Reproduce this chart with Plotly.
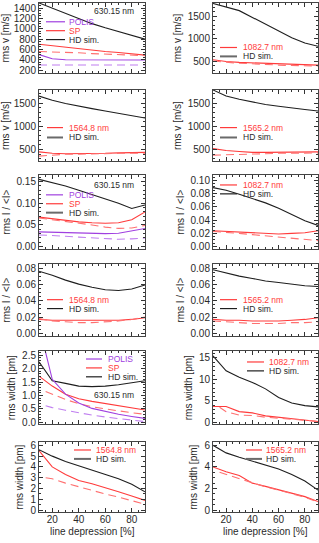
import plotly.graph_objects as go

# ---------------- data ----------------
depression = [10, 20, 30, 40, 50, 60, 70, 80, 90]
depression_dash = [15, 20, 30, 40, 50, 60, 70, 80, 90]

# rms velocity [m/s]
v630_hd = [1500, 1400, 1300, 1200, 1100, 1020, 950, 880, 800]
v630_sp = [700, 670, 640, 610, 580, 560, 540, 510, 490]
v630_sp_dash = [560, 555, 545, 535, 520, 510, 500, 490, 480]
v630_polis = [500, 420, 400, 398, 396, 395, 395, 395, 395]
v630_polis_dash = [300, 300, 300, 300, 300, 300, 300, 300, 300]

v1082_hd = [1790, 1710, 1630, 1480, 1330, 1180, 1030, 910, 840]
v1082_obs = [540, 500, 480, 470, 450, 440, 430, 420, 420]
v1082_obs_dash = [510, 480, 460, 450, 430, 420, 410, 400, 400]

v1564_hd = [1650, 1560, 1490, 1430, 1380, 1330, 1280, 1230, 1180]
v1564_obs = [450, 420, 410, 410, 410, 420, 430, 430, 440]
v1564_obs_dash = [360, 380, 400, 400, 410, 410, 420, 420, 420]

v1565_hd = [1780, 1650, 1580, 1520, 1470, 1430, 1390, 1360, 1330]
v1565_obs = [520, 480, 460, 440, 440, 440, 450, 450, 450]
v1565_obs_dash = [380, 390, 400, 400, 410, 420, 420, 430, 430]

# rms intensity / <I>
i630_hd = [0.155, 0.148, 0.140, 0.130, 0.120, 0.110, 0.100, 0.088, 0.096]
i630_sp = [0.068, 0.064, 0.060, 0.057, 0.055, 0.054, 0.055, 0.062, 0.080]
i630_sp_dash = [0.066, 0.062, 0.058, 0.055, 0.050, 0.045, 0.042, 0.043, 0.049]
i630_polis = [0.034, 0.033, 0.032, 0.031, 0.030, 0.030, 0.031, 0.036, 0.042]
i630_polis_dash = [0.027, 0.026, 0.024, 0.022, 0.020, 0.018, 0.017, 0.018, 0.020]

i1082_hd = [0.089, 0.085, 0.079, 0.073, 0.066, 0.058, 0.049, 0.039, 0.032]
i1082_obs = [0.024, 0.023, 0.022, 0.021, 0.020, 0.019, 0.020, 0.021, 0.024]
i1082_obs_dash = [0.023, 0.022, 0.020, 0.018, 0.016, 0.014, 0.012, 0.010, 0.009]

i1564_hd = [0.077, 0.072, 0.066, 0.061, 0.057, 0.054, 0.053, 0.055, 0.060]
i1564_obs = [0.017, 0.016, 0.016, 0.016, 0.016, 0.016, 0.016, 0.017, 0.019]
i1564_obs_dash = [0.018, 0.015, 0.014, 0.013, 0.013, 0.014, 0.015, 0.017, 0.020]

i1565_hd = [0.079, 0.075, 0.071, 0.068, 0.065, 0.063, 0.061, 0.059, 0.058]
i1565_obs = [0.017, 0.016, 0.016, 0.015, 0.015, 0.015, 0.016, 0.017, 0.019]
i1565_obs_dash = [0.015, 0.014, 0.013, 0.012, 0.012, 0.012, 0.013, 0.013, 0.014]

# rms width [pm]
w630_hd = [2.25, 1.55, 1.45, 1.35, 1.33, 1.35, 1.40, 1.47, 1.55]
w630_sp = [1.72, 1.35, 1.05, 0.88, 0.78, 0.70, 0.62, 0.55, 0.46]
w630_sp_dash = [1.15, 1.05, 0.85, 0.70, 0.58, 0.50, 0.42, 0.36, 0.30]
w630_polis = [3.6, 1.6, 1.05, 0.72, 0.52, 0.40, 0.30, 0.22, 0.15]
w630_polis_dash = [0.62, 0.55, 0.45, 0.35, 0.27, 0.20, 0.14, 0.08, 0.03]

w1082_hd = [15.5, 12.0, 10.5, 9.3, 7.8, 5.8, 4.5, 3.9, 3.6]
w1082_obs = [3.7, 3.7, 2.5, 2.2, 1.5, 1.2, 0.9, 0.6, 0.2]
w1082_obs_dash = [3.5, 2.5, 1.7, 1.6, 1.2, 1.0, 0.7, 0.5, 0.2]

w1564_hd = [5.6, 5.0, 4.5, 4.1, 3.7, 3.3, 2.9, 2.4, 1.7]
w1564_obs = [5.5, 4.0, 3.3, 2.75, 2.45, 2.1, 1.7, 1.3, 0.9]
w1564_obs_dash = [3.0, 2.9, 2.5, 2.15, 1.85, 1.5, 1.2, 0.9, 0.55]

w1565_hd = [6.0, 5.3, 4.9, 4.55, 4.2, 3.8, 3.3, 2.7, 1.85]
w1565_obs = [4.0, 3.55, 3.2, 2.5, 2.2, 1.9, 1.6, 1.25, 0.8]
w1565_obs_dash = [3.5, 3.3, 2.9, 2.5, 2.15, 1.85, 1.5, 1.2, 0.75]

x_ticks = [20, 40, 60, 80]

# ---------------- style ----------------
W, H = 319, 543
FONT = "Liberation Sans"
TXT = "#2a2a2a"
HD = "#1e1e1e"
RED = "#ff3b3b"
RED_D = "#ff7070"
PUR = "#a040e0"
PUR_D = "#c07ff0"
HDLEG = "#6a6a6a"
DASH = "8px,5px"
LEGFS = 8.5

cols = [(39, 145), (213, 318)]
rows = [(1, 72), (89, 161), (175, 250), (265, 338), (353, 427), (445, 516)]

V_T = "rms v [m/s]"
I_T = "rms I / &lt;I&gt;"
W_T = "rms width [pm]"


def px(x):
    return x / W


def py(y):
    return 1 - y / H


fig = go.Figure()
shapes = []
annos = []

panels = [
    # row, col, yrange, dtick, minor, ytitle, series
    (0, 0, [140, 1500], 200, 50, V_T,
     [(depression, v630_hd, HD, "solid"), (depression, v630_sp, RED, "solid"),
      (depression, v630_sp_dash, RED_D, "dash"), (depression, v630_polis, PUR, "solid"),
      (depression, v630_polis_dash, PUR_D, "dash")]),
    (0, 1, [240, 1800], 500, 100, V_T,
     [(depression, v1082_hd, HD, "solid"), (depression, v1082_obs, RED, "solid"),
      (depression, v1082_obs_dash, RED_D, "dash")]),
    (1, 0, [250, 1780], 500, 100, V_T,
     [(depression, v1564_hd, HD, "solid"), (depression, v1564_obs, RED, "solid"),
      (depression, v1564_obs_dash, RED_D, "dash")]),
    (1, 1, [250, 1780], 500, 100, V_T,
     [(depression, v1565_hd, HD, "solid"), (depression, v1565_obs, RED, "solid"),
      (depression, v1565_obs_dash, RED_D, "dash")]),
    (2, 0, [-0.006, 0.165], 0.05, 0.01, I_T,
     [(depression, i630_hd, HD, "solid"), (depression, i630_sp, RED, "solid"),
      (depression, i630_sp_dash, RED_D, "dash"), (depression, i630_polis, PUR, "solid"),
      (depression, i630_polis_dash, PUR_D, "dash")]),
    (2, 1, [-0.004, 0.108], 0.02, 0.005, I_T,
     [(depression, i1082_hd, HD, "solid"), (depression, i1082_obs, RED, "solid"),
      (depression, i1082_obs_dash, RED_D, "dash")]),
    (3, 0, [-0.004, 0.086], 0.02, 0.005, I_T,
     [(depression, i1564_hd, HD, "solid"), (depression, i1564_obs, RED, "solid"),
      (depression, i1564_obs_dash, RED_D, "dash")]),
    (3, 1, [-0.004, 0.086], 0.02, 0.005, I_T,
     [(depression, i1565_hd, HD, "solid"), (depression, i1565_obs, RED, "solid"),
      (depression, i1565_obs_dash, RED_D, "dash")]),
    (4, 0, [-0.07, 2.65], 0.5, 0.1, W_T,
     [(depression, w630_hd, HD, "solid"), (depression, w630_sp, RED, "solid"),
      (depression_dash, w630_sp_dash, RED_D, "dash"), (depression, w630_polis, PUR, "solid"),
      (depression_dash, w630_polis_dash, PUR_D, "dash")]),
    (4, 1, [-0.45, 16.6], 5, 1, W_T,
     [(depression, w1082_hd, HD, "solid"), (depression, w1082_obs, RED, "solid"),
      (depression_dash, w1082_obs_dash, RED_D, "dash")]),
    (5, 0, [-0.2, 6.3], 1, 0.5, W_T,
     [(depression, w1564_hd, HD, "solid"), (depression, w1564_obs, RED, "solid"),
      (depression_dash, w1564_obs_dash, RED_D, "dash")]),
    (5, 1, [-0.2, 6.3], 2, 0.5, W_T,
     [(depression, w1565_hd, HD, "solid"), (depression, w1565_obs, RED, "solid"),
      (depression_dash, w1565_obs_dash, RED_D, "dash")]),
]

layout = {}
for i, (r, c, yr, dt, mdt, ytitle, series) in enumerate(panels):
    n = i + 1
    xs = "x" if n == 1 else f"x{n}"
    ys = "y" if n == 1 else f"y{n}"
    xa = "xaxis" if n == 1 else f"xaxis{n}"
    ya = "yaxis" if n == 1 else f"yaxis{n}"
    for (xx, yy, col, dash) in series:
        fig.add_trace(go.Scatter(x=xx, y=yy, xaxis=xs, yaxis=ys, mode="lines",
                                 line=dict(color=col, width=1.1, dash=(DASH if dash == "dash" else "solid")),
                                 showlegend=False, hoverinfo="skip"))
    x0, x1 = cols[c]
    t, b = rows[r]
    bottom = (r == 5)
    layout[xa] = dict(domain=[px(x0), px(x1)], range=[10, 90], anchor=ys,
                      tickmode="array", tickvals=x_ticks,
                      ticks="inside", ticklen=4, tickcolor="#333", mirror="allticks",
                      showline=True, linecolor="#444", linewidth=1, showgrid=False, zeroline=False,
                      showticklabels=bottom, ticklabelstandoff=-2,
                      tickfont=dict(family=FONT, size=10, color=TXT),
                      minor=dict(dtick=5, tick0=0, ticks="inside", ticklen=2, tickcolor="#333"))
    layout[ya] = dict(domain=[py(b), py(t)], range=yr, anchor=xs,
                      dtick=dt, tick0=0,
                      ticks="inside", ticklen=4, tickcolor="#333", mirror="allticks",
                      showline=True, linecolor="#444", linewidth=1, showgrid=False, zeroline=False,
                      tickfont=dict(family=FONT, size=10, color=TXT),
                      minor=dict(dtick=mdt, tick0=0, ticks="inside", ticklen=2, tickcolor="#333"),
                      title=dict(text=ytitle, font=dict(family=FONT, size=10, color=TXT), standoff=4))
    if dt < 0.1:
        layout[ya]["tickformat"] = ".2f"
    elif dt < 1:
        layout[ya]["tickformat"] = ".1f"
    if bottom:
        annos.append(dict(xref="paper", yref="paper", x=px((x0 + x1) / 2), y=py(535),
                          text="line depression [%]", showarrow=False,
                          xanchor="center", yanchor="middle", borderpad=0,
                          font=dict(family=FONT, size=10, color=TXT)))


def legend_item(xl0, xl1, xt, y, color, text, tcolor, lw=1.2):
    shapes.append(dict(type="line", xref="paper", yref="paper", x0=px(xl0), x1=px(xl1),
                       y0=py(y), y1=py(y), line=dict(color=color, width=lw)))
    annos.append(dict(xref="paper", yref="paper", x=px(xt), y=py(y), text=text, showarrow=False,
                      xanchor="left", yanchor="middle", borderpad=0,
                      font=dict(family=FONT, size=LEGFS, color=tcolor)))


def label(x, y, text, color=TXT):
    annos.append(dict(xref="paper", yref="paper", x=px(x), y=py(y), text=text, showarrow=False,
                      xanchor="left", yanchor="middle", borderpad=0,
                      font=dict(family=FONT, size=LEGFS, color=color)))


# row 1 left
label(93, 9, "630.15 nm")
legend_item(46, 65, 68, 20, PUR, "POLIS", PUR)
legend_item(46, 65, 68, 29, RED, "SP", RED)
legend_item(46, 65, 68, 38, HD, "HD sim.", TXT)
# row 1 right
legend_item(220, 237, 242, 46, RED, "1082.7 nm", RED)
legend_item(220, 237, 242, 55, HDLEG, "HD sim.", TXT, 2)
# row 2
legend_item(47, 63, 68, 127, RED, "1564.8 nm", RED)
legend_item(47, 63, 68, 137, HDLEG, "HD sim.", TXT, 2)
legend_item(220, 237, 242, 127, RED, "1565.2 nm", RED)
legend_item(220, 237, 242, 137, HDLEG, "HD sim.", TXT, 2)
# row 3
label(93, 185, "630.15 nm")
legend_item(46, 63, 68, 195, PUR, "POLIS", PUR)
legend_item(46, 63, 68, 204, RED, "SP", RED)
legend_item(46, 63, 68, 213, HDLEG, "HD sim.", TXT, 2)
legend_item(220, 237, 242, 185, RED, "1082.7 nm", RED)
legend_item(220, 237, 242, 194, HD, "HD sim.", TXT)
# row 4
legend_item(47, 63, 68, 301, RED, "1564.8 nm", RED)
legend_item(47, 63, 68, 310, HD, "HD sim.", TXT)
legend_item(220, 237, 242, 301, RED, "1565.2 nm", RED)
legend_item(220, 237, 242, 310, HD, "HD sim.", TXT)
# row 5
legend_item(86, 102, 107, 361, PUR, "POLIS", PUR)
legend_item(86, 102, 107, 370, RED, "SP", RED)
legend_item(86, 102, 107, 379, HD, "HD sim.", TXT)
label(93, 397, "630.15 nm")
legend_item(247, 264, 268, 364, RED, "1082.7 nm", RED)
legend_item(247, 264, 268, 373, HD, "HD sim.", TXT)
# row 6
legend_item(74, 91, 95, 453, RED, "1564.8 nm", RED)
legend_item(74, 91, 95, 462, HDLEG, "HD sim.", TXT, 2)
legend_item(246, 262, 265, 453, RED, "1565.2 nm", RED)
legend_item(246, 262, 265, 462, HDLEG, "HD sim.", TXT, 2)

fig.update_layout(width=W, height=H, margin=dict(l=0, r=0, t=0, b=0),
                  paper_bgcolor="white", plot_bgcolor="white",
                  showlegend=False, shapes=shapes, annotations=annos, **layout)
fig.write_html("out.html", config={"displayModeBar": False, "staticPlot": True},
               post_script="document.body.style.margin='0';document.body.style.padding='0';"
                           "document.body.style.overflow='hidden';")
